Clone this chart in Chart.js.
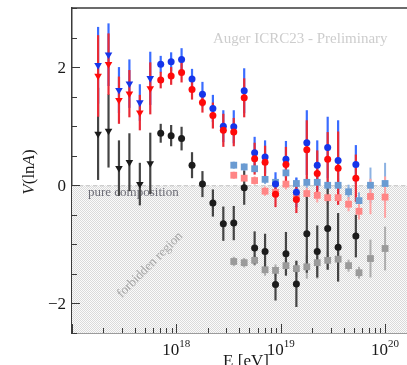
<!DOCTYPE html>
<html>
<head>
<meta charset="utf-8">
<script src="https://cdn.jsdelivr.net/npm/chart.js@4.4.1/dist/chart.umd.min.js"></script>
<style>
  html, body { margin: 0; padding: 0; background: #fff; }
  #wrap { width: 407px; height: 365px; }
</style>
</head>
<body>
<div id="wrap"><canvas id="chart" width="407" height="365"></canvas></div>
<script>
// bin centres, lg(E/eV)
const fdLgE = [17.25, 17.35, 17.45, 17.55, 17.65, 17.75, 17.85, 17.95, 18.05, 18.15, 18.25, 18.35, 18.45,
  18.55, 18.65, 18.75, 18.85, 18.95, 19.05, 19.15, 19.25, 19.35, 19.45, 19.55, 19.72];
const sdLgE = [18.55, 18.65, 18.75, 18.85, 18.95, 19.05, 19.15, 19.25, 19.35, 19.45, 19.55, 19.65, 19.75, 19.86, 20.0];

// FD, V(lnA) per hadronic model
const fdBlue = [2.03, 2.21, 1.61, 1.72, 1.40, 1.81, 2.05, 2.09, 2.13, 1.80, 1.54, 1.30, 1.00,
  0.99, 1.60, 0.55, 0.48, 0.02, 0.44, -0.12, 0.72, 0.34, 0.64, 0.42, 0.35];
const fdBlueErr = [0.65, 0.53, 0.39, 0.41, 0.31, 0.45, 0.14, 0.16, 0.19, 0.17, 0.21, 0.23, 0.27,
  0.28, 0.38, 0.27, 0.28, 0.2, 0.31, 0.25, 0.55, 0.42, 0.52, 0.68, 0.33];
const fdRed = [1.85, 2.05, 1.44, 1.55, 1.23, 1.64, 1.78, 1.85, 1.91, 1.62, 1.40, 1.18, 0.93,
  0.90, 1.48, 0.45, 0.39, -0.15, 0.35, -0.24, 0.60, 0.20, 0.44, 0.29, 0.12];
const fdRedErr = [0.69, 0.52, 0.4, 0.4, 0.3, 0.44, 0.14, 0.15, 0.17, 0.17, 0.17, 0.22, 0.28,
  0.24, 0.33, 0.27, 0.28, 0.22, 0.3, 0.23, 0.5, 0.39, 0.46, 0.62, 0.4];
const fdBlack = [0.87, 0.92, 0.29, 0.39, 0.02, 0.37, 0.88, 0.84, 0.79, 0.34, 0.02, -0.30, -0.65,
  -0.64, -0.04, -1.06, -1.12, -1.68, -1.16, -1.67, -0.82, -1.12, -0.73, -1.05, -0.86];
const fdBlackErr = [0.78, 0.62, 0.47, 0.49, 0.36, 0.52, 0.16, 0.18, 0.2, 0.22, 0.22, 0.23, 0.29,
  0.29, 0.29, 0.28, 0.3, 0.27, 0.37, 0.39, 0.66, 0.44, 0.7, 0.58, 0.36];

// SD
const sdBlue = [0.34, 0.31, 0.28, 0.10, 0.05, 0.21, 0.03, 0.05, 0.05, 0.0, 0.0, -0.11, -0.26, 0.0, 0.03];
const sdBlueErr = [0.06, 0.06, 0.07, 0.08, 0.08, 0.09, 0.1, 0.1, 0.1, 0.12, 0.12, 0.12, 0.14, 0.3, 0.35];
const sdRed = [0.17, 0.12, 0.08, -0.10, -0.12, 0.02, -0.17, -0.14, -0.17, -0.21, -0.21, -0.32, -0.44, -0.19, -0.20];
const sdRedErr = [0.06, 0.06, 0.07, 0.08, 0.08, 0.09, 0.1, 0.1, 0.12, 0.12, 0.12, 0.12, 0.14, 0.3, 0.35];
const sdGray = [-1.29, -1.31, -1.27, -1.43, -1.44, -1.36, -1.41, -1.38, -1.31, -1.27, -1.25, -1.36, -1.48, -1.24, -1.07];
const sdGrayErr = [0.08, 0.08, 0.09, 0.1, 0.1, 0.12, 0.14, 0.2, 0.27, 0.15, 0.18, 0.1, 0.1, 0.32, 0.37];

const yTicks = [-2.5, -2, -1.5, -1, -0.5, 0, 0.5, 1, 1.5, 2, 2.5, 3];
const yLabels = { "-2": "\u22122", "0": "0", "2": "2" };
const decades = [17, 18, 19, 20];

const SERIF = "'Liberation Serif', 'DejaVu Serif', serif";

const pts = (lg, v) => lg.map((e, i) => ({ x: Math.pow(10, e), y: v[i] }));

const fdStyle = fdLgE.map((e, i) => (i < 6 ? "triangle" : "circle"));
const fdRot = fdLgE.map((e, i) => (i < 6 ? 180 : 0));
const fdRad = fdLgE.map((e, i) => (i < 6 ? 4.4 : 3.5));

function fdSet(data, err, color, barColor) {
  return {
    data: data, errs: err, barColor: barColor, barWidth: 2.2,
    backgroundColor: color, borderWidth: 0,
    pointStyle: fdStyle, rotation: fdRot, pointRadius: fdRad,
  };
}
function sdSet(data, err, color, barColor) {
  return {
    data: data, errs: err, barColor: barColor, barWidth: 2,
    backgroundColor: color, borderWidth: 0,
    pointStyle: "rect", pointRadius: 4.8,
  };
}

// index 0 is drawn on top
const datasets = [
  fdSet(pts(fdLgE, fdRed), fdRedErr, "#ff0a0a", "#e82a36"),
  fdSet(pts(fdLgE, fdBlue), fdBlueErr, "#1535ea", "#3a6cff"),
  fdSet(pts(fdLgE, fdBlack), fdBlackErr, "#1c1c1c", "#444444"),
  sdSet(pts(sdLgE, sdRed), sdRedErr, "#ff8585", "#ffa3a3"),
  sdSet(pts(sdLgE, sdBlue), sdBlueErr, "#6a9bd2", "#8cb2e2"),
  sdSet(pts(sdLgE, sdGray), sdGrayErr, "#9a9a9a", "#adadad"),
];

let hatch = null;
function getHatch(ctx) {
  if (hatch) return hatch;
  const c = document.createElement("canvas");
  c.width = 2; c.height = 2;
  const g = c.getContext("2d");
  g.fillStyle = "#fbfbfb"; g.fillRect(0, 0, 2, 2);
  g.fillStyle = "#dadada"; g.fillRect(0, 0, 1, 1); g.fillRect(1, 1, 1, 1);
  hatch = ctx.createPattern(c, "repeat");
  return hatch;
}

const decorations = {
  id: "decorations",
  beforeDatasetsDraw(chart) {
    const { ctx, chartArea: a, scales: { x, y } } = chart;
    const y0 = y.getPixelForValue(0);
    ctx.save();
    // forbidden region
    ctx.fillStyle = getHatch(ctx);
    ctx.fillRect(a.left, y0, a.right - a.left, a.bottom - y0);
    ctx.strokeStyle = "#c4c4c4";
    ctx.lineWidth = 1;
    ctx.setLineDash([4, 3]);
    ctx.beginPath();
    ctx.moveTo(a.left, y0 + 0.5);
    ctx.lineTo(a.right, y0 + 0.5);
    ctx.stroke();
    ctx.setLineDash([]);

    ctx.fillStyle = "#6c6c76";
    ctx.font = "13px " + SERIF;
    ctx.textBaseline = "alphabetic";
    ctx.textAlign = "left";
    ctx.fillText("pure composition", 88, 196);

    ctx.save();
    ctx.translate(150, 265);
    ctx.rotate(-Math.PI / 4);
    ctx.fillStyle = "#a6a6a6";
    ctx.font = "13px " + SERIF;
    ctx.textAlign = "center";
    ctx.textBaseline = "middle";
    ctx.fillText("forbidden region", 0, 0);
    ctx.restore();

    ctx.fillStyle = "#cdcdcd";
    ctx.font = "15px " + SERIF;
    ctx.textAlign = "left";
    ctx.textBaseline = "middle";
    ctx.fillText("Auger ICRC23 - Preliminary", 213, 39);

    // error bars, bottom dataset first
    for (let i = chart.data.datasets.length - 1; i >= 0; i--) {
      const ds = chart.data.datasets[i];
      ctx.strokeStyle = ds.barColor;
      ctx.lineWidth = ds.barWidth;
      ds.data.forEach((p, j) => {
        const px = x.getPixelForValue(p.x);
        ctx.beginPath();
        ctx.moveTo(px, y.getPixelForValue(p.y + ds.errs[j]));
        ctx.lineTo(px, y.getPixelForValue(p.y - ds.errs[j]));
        ctx.stroke();
      });
    }
    ctx.restore();
  },
  afterDraw(chart) {
    const { ctx, chartArea: a, scales: { x, y } } = chart;
    ctx.save();
    ctx.strokeStyle = "#3a3a3a";
    ctx.lineWidth = 1.5;
    // top frame line
    ctx.beginPath();
    ctx.moveTo(a.left, a.top);
    ctx.lineTo(a.right, a.top);
    ctx.stroke();

    // inward ticks + y labels
    ctx.lineWidth = 1;
    ctx.fillStyle = "#1a1a1a";
    ctx.font = "17px " + SERIF;
    ctx.textAlign = "right";
    ctx.textBaseline = "middle";
    yTicks.forEach((v) => {
      const py = Math.round(y.getPixelForValue(v)) + 0.5;
      const lab = yLabels[String(v)];
      const len = lab ? 8 : 5;
      ctx.beginPath();
      ctx.moveTo(a.left, py);
      ctx.lineTo(a.left + len, py);
      ctx.stroke();
      if (lab) ctx.fillText(lab, a.left - 6, py + 1);
    });
    decades.forEach((n) => {
      for (let k = 1; k <= 9; k++) {
        const v = k * Math.pow(10, n);
        if (v < x.min || v > x.max) continue;
        const px = Math.round(x.getPixelForValue(v)) + 0.5;
        const len = k === 1 ? 9 : 5;
        ctx.beginPath();
        ctx.moveTo(px, a.bottom);
        ctx.lineTo(px, a.bottom - len);
        ctx.stroke();
      }
    });

    // decade labels
    ctx.textBaseline = "alphabetic";
    ctx.textAlign = "left";
    decades.forEach((n) => {
      const v = Math.pow(10, n);
      if (v <= x.min || v > x.max) return;
      const px = x.getPixelForValue(v);
      ctx.font = "17px " + SERIF;
      const w1 = ctx.measureText("10").width;
      ctx.font = "11px " + SERIF;
      const w2 = ctx.measureText(String(n)).width;
      const left = px - (w1 + w2) / 2;
      ctx.font = "17px " + SERIF;
      ctx.fillText("10", left, 355);
      ctx.font = "11px " + SERIF;
      ctx.fillText(String(n), left + w1, 347);
    });

    // axis titles
    ctx.font = "17px " + SERIF;
    ctx.textBaseline = "top";
    ctx.textAlign = "center";
    ctx.fillText("E [eV]", 246, 353);

    const parts = [["V", "italic "], ["(ln", ""], ["A", "italic "], [")", ""]];
    let total = 0;
    parts.forEach((p) => { ctx.font = p[1] + "17px " + SERIF; total += ctx.measureText(p[0]).width; });
    ctx.save();
    ctx.translate(30, 172);
    ctx.rotate(-Math.PI / 2);
    ctx.textAlign = "left";
    ctx.textBaseline = "middle";
    let cx = -total / 2;
    parts.forEach((p) => {
      ctx.font = p[1] + "17px " + SERIF;
      ctx.fillText(p[0], cx, 0);
      cx += ctx.measureText(p[0]).width;
    });
    ctx.restore();
    ctx.restore();
  },
};

new Chart(document.getElementById("chart"), {
  type: "scatter",
  data: { datasets: datasets },
  plugins: [decorations],
  options: {
    responsive: false,
    animation: false,
    devicePixelRatio: 1,
    layout: { autoPadding: false, padding: { top: 8, right: 0, left: 0, bottom: 0 } },
    plugins: { legend: { display: false }, tooltip: { enabled: false } },
    scales: {
      x: {
        type: "logarithmic",
        min: 1e17,
        max: Math.pow(10, 20.21),
        grid: { display: false, drawTicks: false },
        border: { display: true, color: "#3a3a3a", width: 1.5 },
        ticks: { display: false },
        afterFit: (s) => { s.height = 32; s.paddingRight = 0; s.paddingLeft = 0; },
      },
      y: {
        min: -2.5,
        max: 3,
        grid: { display: false, drawTicks: false },
        border: { display: true, color: "#3a3a3a", width: 1.5 },
        ticks: { display: false },
        afterFit: (s) => { s.width = 72; s.paddingTop = 0; s.paddingBottom = 0; },
      },
    },
  },
});
</script>
</body>
</html>
